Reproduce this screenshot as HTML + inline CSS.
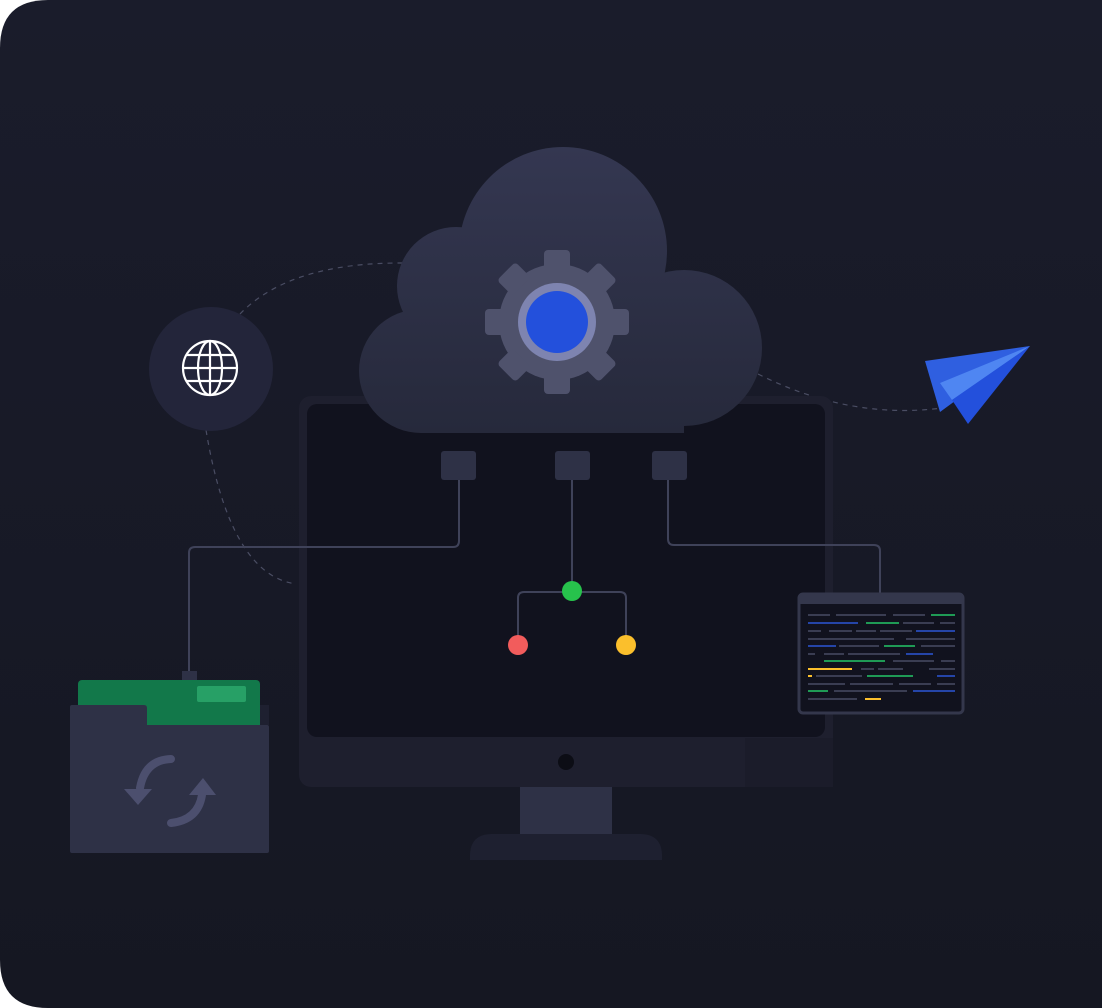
<!DOCTYPE html>
<html><head><style>html,body{margin:0;padding:0;background:#fff}svg{display:block}</style></head><body>
<svg width="1102" height="1008" viewBox="0 0 1102 1008" xmlns="http://www.w3.org/2000/svg">
<defs>
<linearGradient id="bg" x1="0" y1="0" x2="0" y2="1"><stop offset="0" stop-color="#1a1c2b"/><stop offset="1" stop-color="#151722"/></linearGradient>
<linearGradient id="cl" gradientUnits="userSpaceOnUse" x1="0" y1="147" x2="0" y2="433"><stop offset="0" stop-color="#343751"/><stop offset="1" stop-color="#26293b"/></linearGradient>
</defs>
<path d="M48 0 H1102 V1008 H48 Q0 1008 0 960 V48 Q0 0 48 0Z" fill="url(#bg)"/>
<g fill="none" stroke="#4a4d63" stroke-width="1.2" stroke-dasharray="5 5">
<path d="M240 314 Q290 262 405 263"/>
<path d="M206 430 Q230 575 296 584"/>
<path d="M758 374 Q850 420 942 408"/>
</g>
<path d="M470 860 V856 Q470 834 492 834 H640 Q662 834 662 856 V860Z" fill="#1e2030"/>
<rect x="520" y="786" width="92" height="48" fill="#2e3146"/>
<rect x="299" y="396" width="534" height="391" rx="12" fill="#1e1f2e"/>
<rect x="745" y="738" width="88" height="49" fill="#1b1c2a"/>
<rect x="307" y="404" width="518" height="333" rx="10" fill="#11121e"/>
<circle cx="566" cy="762" r="8" fill="#0c0d15"/>
<g fill="url(#cl)">
<circle cx="563" cy="251" r="104"/>
<circle cx="456" cy="286" r="59"/>
<circle cx="684" cy="348" r="78"/>
<circle cx="421" cy="371" r="62"/>
<rect x="421" y="300" width="263" height="133"/>
</g>
<g transform="translate(557 322)" fill="#4f526c">
<circle r="58"/>
<g id="t"><rect x="-13" y="-72" width="26" height="22" rx="4"/></g>
<use href="#t" transform="rotate(45)"/><use href="#t" transform="rotate(90)"/><use href="#t" transform="rotate(135)"/>
<use href="#t" transform="rotate(180)"/><use href="#t" transform="rotate(225)"/><use href="#t" transform="rotate(270)"/><use href="#t" transform="rotate(315)"/>
<circle r="39" fill="#7e84b0"/>
<circle r="31" fill="#2350dc"/>
</g>
<g fill="none" stroke="#3f4259" stroke-width="2">
<path d="M459 480 V541 Q459 547 453 547 H195 Q189 547 189 553 V672"/>
<path d="M572 480 V591"/>
<path d="M518 645 V598 Q518 592 524 592 H620 Q626 592 626 598 V645"/>
<path d="M668 480 V539 Q668 545 674 545 H874 Q880 545 880 551 V594"/>
</g>
<rect x="441" y="451" width="35" height="29" rx="3" fill="#2e3146"/>
<rect x="555" y="451" width="35" height="29" rx="3" fill="#2e3146"/>
<rect x="652" y="451" width="35" height="29" rx="3" fill="#2e3146"/>
<circle cx="572" cy="591" r="10" fill="#27c24c"/>
<circle cx="518" cy="645" r="10" fill="#f25c5c"/>
<circle cx="626" cy="645" r="10" fill="#fbbf2c"/>
<circle cx="211" cy="369" r="62" fill="#23253a"/>
<g fill="none" stroke="#fff" stroke-width="2.2">
<circle cx="210" cy="368" r="27"/>
<ellipse cx="210" cy="368" rx="12" ry="27"/>
<line x1="210" y1="341" x2="210" y2="395"/>
<line x1="183" y1="368" x2="237" y2="368"/>
<path d="M187 355 H233 M187 381 H233"/>
</g>
<polygon points="925,361 1030,346 940,412" fill="#2f5fe0"/>
<polygon points="940,383 1030,346 952,400" fill="#4f86f2"/>
<polygon points="952,400 1030,346 968,424" fill="#2350dc"/>
<rect x="799" y="594" width="164" height="119" rx="4" fill="#11121e" stroke="#34374c" stroke-width="3"/>
<rect x="799" y="594" width="164" height="10" fill="#34374c"/>
<g stroke-width="2">
<path d="M808 615h22M836 615h50M893 615h32" stroke="#3a3d52"/><path d="M931 615h24" stroke="#1f9a55"/>
<path d="M808 623h50" stroke="#2545a8"/><path d="M866 623h33" stroke="#1f9a55"/><path d="M903 623h31M940 623h15" stroke="#3a3d52"/>
<path d="M808 631h13M829 631h23M856 631h20M880 631h32" stroke="#3a3d52"/><path d="M916 631h39" stroke="#2545a8"/>
<path d="M808 639h86M906 639h49" stroke="#3a3d52"/>
<path d="M808 646h28" stroke="#2545a8"/><path d="M839 646h40M921 646h34" stroke="#3a3d52"/><path d="M884 646h31" stroke="#1f9a55"/>
<path d="M808 654h7M824 654h20M848 654h52" stroke="#3a3d52"/><path d="M906 654h27" stroke="#2545a8"/>
<path d="M824 661h61" stroke="#1f9a55"/><path d="M893 661h41M941 661h14" stroke="#3a3d52"/>
<path d="M808 669h44" stroke="#fbbf2c"/><path d="M861 669h13M878 669h25M929 669h26" stroke="#3a3d52"/>
<path d="M808 676h4" stroke="#fbbf2c"/><path d="M816 676h46" stroke="#3a3d52"/><path d="M867 676h46" stroke="#1f9a55"/><path d="M937 676h18" stroke="#2545a8"/>
<path d="M808 684h37M850 684h43M899 684h32M937 684h18" stroke="#3a3d52"/>
<path d="M808 691h20" stroke="#1f9a55"/><path d="M834 691h73" stroke="#3a3d52"/><path d="M913 691h42" stroke="#2545a8"/>
<path d="M808 699h49" stroke="#3a3d52"/><path d="M865 699h16" stroke="#fbbf2c"/>
</g>
<rect x="182" y="671" width="15" height="10" fill="#2e3146"/>
<rect x="78" y="680" width="182" height="50" rx="4" fill="#12784a"/>
<rect x="197" y="686" width="49" height="16" rx="2" fill="#27a066"/>
<rect x="260" y="705" width="9" height="20" fill="#1e2030"/>
<path d="M72 705 H144 Q147 705 147 708 V725 H267 Q269 725 269 727 V851 Q269 853 267 853 H72 Q70 853 70 851 V707 Q70 705 72 705Z" fill="#2e3146"/>
<g fill="none" stroke="#4c4f6e" stroke-width="8" stroke-linecap="round">
<path d="M171 759 Q145 760 140 788"/>
<path d="M171 823 Q198 820 202 795"/>
</g>
<polygon points="124,789 152,789 138,805" fill="#4c4f6e"/>
<polygon points="189,795 216,795 203,778" fill="#4c4f6e"/>
</svg>
</body></html>
